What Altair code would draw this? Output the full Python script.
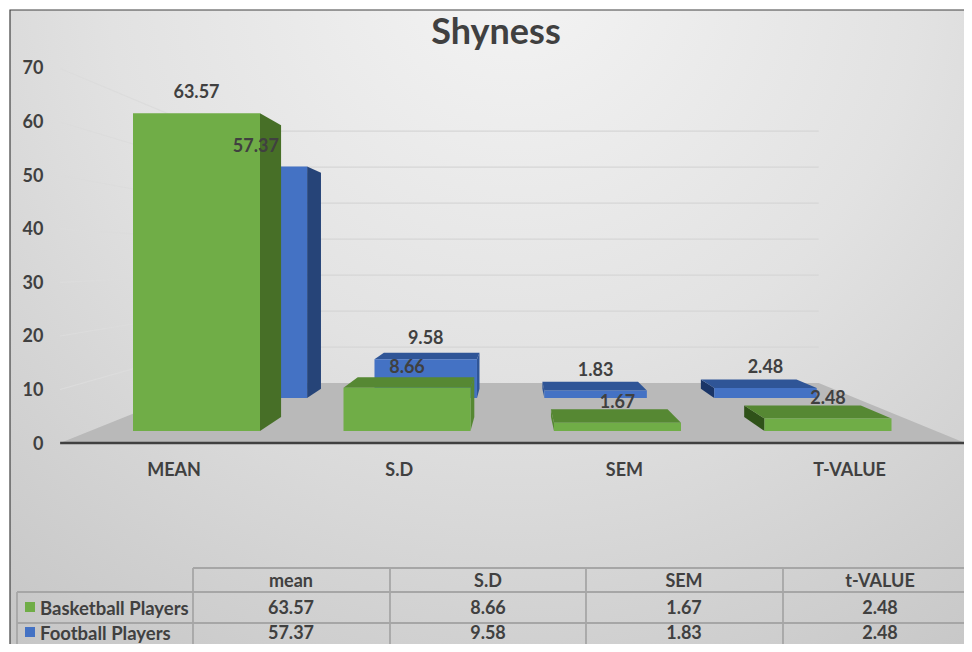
import altair as alt
import pandas as pd

# ---- values ----
categories = ["MEAN", "S.D", "SEM", "T-VALUE"]
table_headers = ["mean", "S.D", "SEM", "t-VALUE"]
series_names = ["Basketball Players", "Football Players"]
basketball = [63.57, 8.66, 1.67, 2.48]
football = [57.37, 9.58, 1.83, 2.48]
ticks = [0, 10, 20, 30, 40, 50, 60, 70]

# ---- 3D projection of the original chart (page pixels) ----
VX, VY = 517, 260
BASE = 171
UNIT = 5.0
K_FRONT = {"g": 1.0, "b": 0.807}
K_BACK = {"g": 0.918, "b": 0.753}
SHIFT = {"g": 0, "b": -2.5}
SLOT0, SLOT, BAR_W = 133, 210.5, 127
INK = "#404040"
FONT = "Lato"
PAGE_R, PAGE_B = 964, 644


def to_val(py):
    return (444 - py) / 5.36


def px(x, k):
    return VX + (x - VX) * k


def py(v, k):
    return VY + (BASE - UNIT * v) * k


def val(v, k):
    return to_val(py(v, k))


COL = {
    "g": dict(front="#70ad47", top="#568833", side="#476f27", lside="#2f5219"),
    "b": dict(front="#4472c4", top="#2f5597", side="#264478", lside="#1a3567"),
}


def faces(s, values):
    front, top, side, labels = [], [], [], []
    kf, kb, d = K_FRONT[s], K_BACK[s], SHIFT[s]
    for i, v in enumerate(values):
        xl, xr = SLOT0 + SLOT * i, SLOT0 + SLOT * i + BAR_W
        front.append(dict(x=px(xl, kf) + d, x2=px(xr, kf) + d, y=val(v, kf), y2=val(0, kf), c=COL[s]["front"]))
        if py(v, kf) > VY:
            for k in (kf, kb):
                top.append(dict(id=i, y=val(v, k), x=px(xl, k) + d, x2=px(xr, k) + d, c=COL[s]["top"]))
        if xr < VX:
            xs, c = xr, COL[s]["side"]
        else:
            xs, c = xl, COL[s]["lside"]
        if abs(xs - VX) < 100:
            c = COL[s]["top"]
        for k in (kf, kb):
            side.append(dict(id=i, x=px(xs, k) + d, y=val(v, k), y2=val(0, k), c=c))
        labels.append(dict(x=(px(xl, kf) + px(xr, kf)) / 2 + d, y=val(v, kf), t=f"{v:.2f}"))
    return map(pd.DataFrame, (side, top, front, labels))


xs = alt.Scale(domain=[8, PAGE_R], nice=False, zero=False)
ys = alt.Scale(domain=[to_val(PAGE_B), to_val(8)], nice=False, zero=False)
y_axis = alt.Axis(
    values=ticks, domain=False, ticks=False, grid=False, offset=-35, labelPadding=0,
    labelFont=FONT, labelFontSize=18, labelFontWeight="bold", labelColor=INK, zindex=1, title=None,
)
X = alt.X("x:Q", scale=xs, axis=None, title=None)
Y = alt.Y("y:Q", scale=ys, axis=y_axis, title=None)
X2 = alt.X2("x2:Q")
Y2 = alt.Y2("y2:Q")
C = alt.Color("c:N", scale=None, legend=None)
ID = alt.Detail("id:N")


def bar_layers(s, values):
    side, top, front, _ = faces(s, values)
    out = [
        alt.Chart(side).mark_area(opacity=1, orient="vertical").encode(X, Y, Y2, C, ID),
        alt.Chart(front).mark_rect(opacity=1).encode(X, Y, X2, Y2, C),
    ]
    if len(top):
        out.insert(1, alt.Chart(top).mark_area(opacity=1, orient="horizontal").encode(X, X2, Y, C, ID))
    return out


def text_layer(df, size, dy=1.5, **kw):
    return alt.Chart(df).mark_text(
        font=FONT, fontWeight="bold", fontSize=size, color=INK, baseline="middle", dy=dy, **kw
    ).encode(X, Y, text="t:N")


# background with the soft radial shading and its frame
bg = alt.Chart(pd.DataFrame([dict(x=10, x2=PAGE_R, y=to_val(10), y2=to_val(PAGE_B))])).mark_rect(
    fill={
        "gradient": "radial",
        "x1": 0.53, "y1": 0.12, "r1": 0.0,
        "x2": 0.53, "y2": 0.12, "r2": 0.95,
        "stops": [
            {"offset": 0, "color": "#f4f4f4"},
            {"offset": 0.45, "color": "#e2e2e2"},
            {"offset": 1, "color": "#c2c2c2"},
        ],
    }
).encode(X, X2, Y, Y2)
frame = alt.Chart(
    pd.DataFrame([dict(id=0, x=10, y=to_val(PAGE_B)), dict(id=0, x=10, y=to_val(10)), dict(id=0, x=PAGE_R, y=to_val(10))])
).mark_line(color="#404040", strokeWidth=1.2, order=False).encode(X, Y, ID)

# floor
K_NEAR, K_FAR = 1.07, 0.72
WX0, WX1 = 90, 936
floor = alt.Chart(pd.DataFrame([
    dict(id=0, y=to_val(VY + BASE * k), x=px(WX0, k), x2=px(WX1, k)) for k in (K_NEAR, K_FAR)
])).mark_area(opacity=1, orient="horizontal", color="#b9b9b9").encode(X, X2, Y, ID)

# wall gridlines
wall_rows, back_rows = [], []
for t in ticks[1:]:
    wall_rows += [dict(id=t, x=px(WX0, K_NEAR), y=val(t, K_NEAR)), dict(id=t, x=px(WX0, K_FAR), y=val(t, K_FAR))]
    back_rows += [dict(id=t, x=px(WX0, K_FAR), y=val(t, K_FAR)), dict(id=t, x=px(WX1, K_FAR), y=val(t, K_FAR))]
wall = alt.Chart(pd.DataFrame(wall_rows)).mark_line(color="#dcdcdc", strokeWidth=1.2).encode(X, Y, ID)
back = alt.Chart(pd.DataFrame(back_rows)).mark_line(color="#d6d6d6", strokeWidth=1.3).encode(X, Y, ID)

# baseline
baseline = alt.Chart(pd.DataFrame([
    dict(id=0, x=px(WX0, K_NEAR), y=to_val(VY + BASE * K_NEAR)),
    dict(id=0, x=px(WX1, K_NEAR), y=to_val(VY + BASE * K_NEAR)),
])).mark_line(color="#404040", strokeWidth=2.6).encode(X, Y, ID)

# value labels
*_, blue_lab = faces("b", football)
*_, green_lab = faces("g", basketball)
lab_b = text_layer(blue_lab, 18, dy=-20)
lab_g = text_layer(green_lab, 18, dy=-20)

# category labels
cat_df = pd.DataFrame([dict(x=174 + 225.2 * i, y=to_val(469), t=c) for i, c in enumerate(categories)])
cat_lab = text_layer(cat_df, 18)

# data table
V_LINES = [193, 390, 586, 783]
H_LINES = [568, 592, 623]
GRID = "#a6a6a6"
tbl = []
tbl += [dict(id=f"v{i}", x=x, y=to_val(568)) for i, x in enumerate(V_LINES)]
tbl += [dict(id=f"v{i}", x=x, y=to_val(PAGE_B)) for i, x in enumerate(V_LINES)]
tbl += [dict(id="vL", x=17, y=to_val(592)), dict(id="vL", x=17, y=to_val(PAGE_B))]
for j, h in enumerate(H_LINES):
    tbl += [dict(id=f"h{j}", x=193 if j == 0 else 17, y=to_val(h)), dict(id=f"h{j}", x=PAGE_R, y=to_val(h))]
table_grid = alt.Chart(pd.DataFrame(tbl)).mark_line(color=GRID, strokeWidth=1.8, order=False).encode(X, Y, ID)

COL_X = [291, 488, 684, 880]
ROW_Y = [607, 632]
cells = [dict(x=x, y=to_val(580), t=h) for x, h in zip(COL_X, table_headers)]
for ry, row in zip(ROW_Y, (basketball, football)):
    cells += [dict(x=x, y=to_val(ry), t=f"{v:.2f}") for x, v in zip(COL_X, row)]
table_text = text_layer(pd.DataFrame(cells), 18)

names = pd.DataFrame([dict(x=40, y=to_val(ry), t=n) for ry, n in zip(ROW_Y, series_names)])
name_text = text_layer(names, 18.5, align="left")
keys = alt.Chart(pd.DataFrame([
    dict(x=25, x2=35, y=to_val(ry - 5), y2=to_val(ry + 5), c=COL[s]["front"]) for ry, s in zip(ROW_Y, "gb")
])).mark_rect(opacity=1).encode(X, X2, Y, Y2, C)

chart = alt.layer(
    bg, frame, floor, wall, back,
    *bar_layers("b", football),
    *bar_layers("g", basketball),
    baseline, lab_b, lab_g, cat_lab, table_grid, table_text, name_text, keys,
).properties(
    width=PAGE_R - 8,
    height=PAGE_B - 8,
    padding=0,
    background="white",
    autosize=alt.AutoSizeParams(type="none"),
    title=alt.TitleParams(
        "Shyness", font=FONT, fontSize=36, fontWeight="bold", color=INK,
        anchor="middle", offset=-44, dx=10,
    ),
).configure_view(stroke=None)

chart.save("out.html", embed_options={"renderer": "svg", "actions": False})
